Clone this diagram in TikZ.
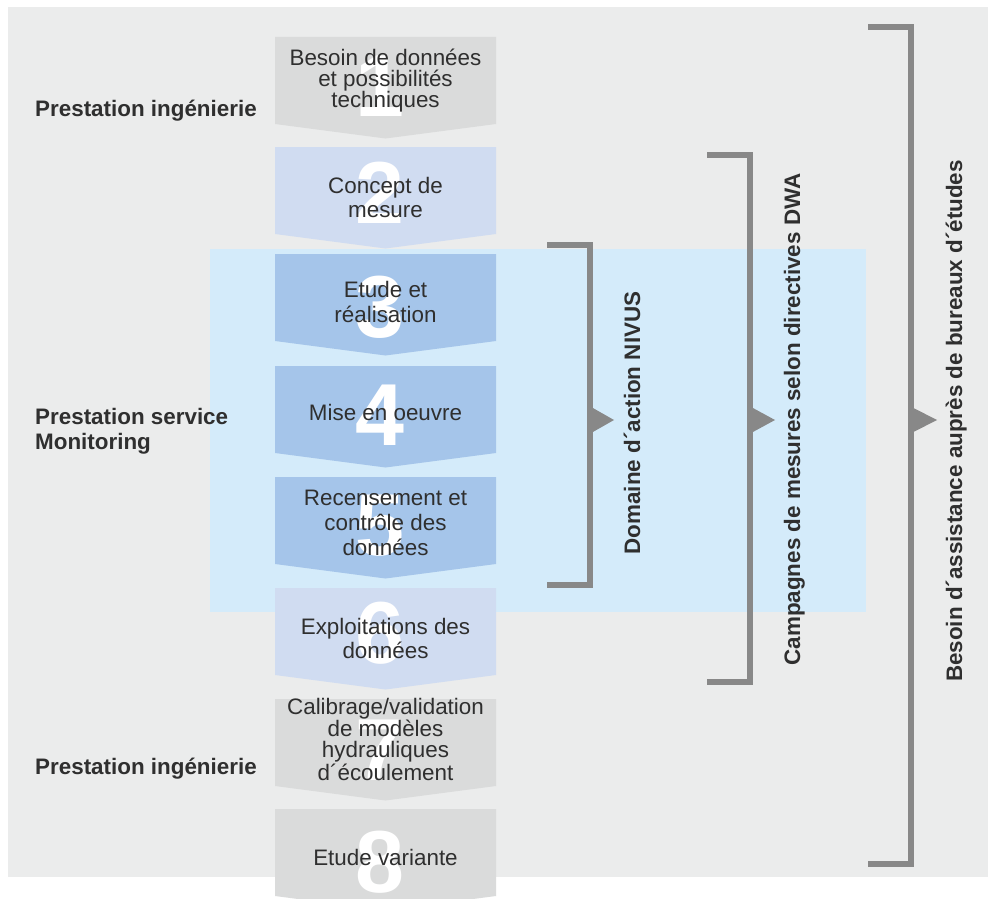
\documentclass[tikz,border=0pt]{standalone}
\usepackage{fontspec}
\setmainfont{Liberation Sans}
\usetikzlibrary{positioning, calc}

\definecolor{fondgris}{HTML}{EBECEC}
\definecolor{fondbleu}{HTML}{D4EBFA}
\definecolor{boitegris}{HTML}{DADBDB}
\definecolor{boiteclair}{HTML}{D0DCF1}
\definecolor{boitebleu}{HTML}{A5C5EA}
\definecolor{crochet}{HTML}{888888}
\definecolor{texte}{HTML}{2F2F2F}

\begin{document}
\begin{tikzpicture}[x=1pt,y=-1pt]
			
			% 定义样式
			\tikzset{
				etape/.style={
					anchor=base, align=center, inner sep=0pt, text=texte,
					font=\fontsize{22.4}{#1}\selectfont
				},
				etape/.default=24.5,
				chiffre/.style={
					anchor=base, inner sep=0pt, text=white,
					font=\fontsize{88}{88}\selectfont\bfseries
				},
				prestation/.style={
					anchor=base west, align=left, inner sep=0pt, text=texte,
					font=\fontsize{22.4}{25}\selectfont\bfseries
				},
				vertical/.style={
					rotate=90, anchor=base, inner sep=0pt, text=texte,
					font=\fontsize{22.4}{25}\selectfont\bfseries
				},
				crochet trait/.style={draw=crochet, line width=6pt, miter limit=10}
			}
			
			% 参数设置
			\def \gauche {275}
			\def \droite {496}
			\def \milieu {385.5}
			\def \hautboite {87}
			\def \pointe {14.5}
			
			\clip (0,0) rectangle (988,899);
			
			% 背景
			\fill[fondgris] (8,7) rectangle (988,877);
			\fill[fondbleu] (210,249) rectangle (866,612);
			
			% 绘制各个步骤 (\bl = 最后一行的基线)
			\foreach \i/\haut/\coul/\txt/\bl/\interl/\cb in {
				1/37/boitegris/{Besoin de données\\et possibilités\\techniques}/107/21/117,
				2/147/boiteclair/{Concept de\\mesure}/217/24/223,
				3/254/boitebleu/{Etude et\\réalisation}/322/25/337,
				4/366/boitebleu/{Mise en oeuvre}/420/25/445,
				5/477/boitebleu/{Recensement et\\contrôle des\\données}/555/25/555,
				6/588/boiteclair/{Exploitations des\\données}/658/24/663,
				7/699/boitegris/{Calibrage/validation\\de modèles\\hydrauliques\\d´écoulement}/780/21/780,
				8/809/boitegris/{Etude variante}/865/25/892} {
				\fill[\coul] (\gauche,\haut) -- (\droite,\haut) 
				-- (\droite,{\haut+\hautboite}) -- (\milieu,{\haut+\hautboite+\pointe}) 
				-- (\gauche,{\haut+\hautboite}) -- cycle;
				\node[chiffre] (num\i) at (379.5,\cb) {\i};
				\node[etape=\interl] (txt\i) at (\milieu,\bl) {\txt};
			}
			
			% 左侧标签
			\node[prestation] (lab1) at (35,117) {Prestation ingénierie};
			\node[prestation] (lab2) at (35,449) {Prestation service\\Monitoring};
			\node[prestation] (lab3) at (35,774) {Prestation ingénierie};
			
			% 括号与三角
			\foreach \nom/\xg/\xv/\yh/\yb/\xp in {
				nivus/547/590/245/585/614,
				dwa/707/750/155/682/775,
				bureaux/868/910.5/27.5/864/937} {
				\coordinate (\nom-a) at (\xg,\yh);
				\coordinate (\nom-b) at (\xv,\yh);
				\coordinate (\nom-c) at (\xv,\yb);
				\coordinate (\nom-d) at (\xg,\yb);
				\draw[crochet trait] (\nom-a) -- (\nom-b) -- (\nom-c) -- (\nom-d);
				\fill[crochet] ({\xv+2},407.5) -- (\xp,420) -- ({\xv+2},432.5) -- cycle;
			}
			
			\node[vertical] (nivus) at (640,423) {Domaine d´action NIVUS};
			\node[vertical] (dwa) at (800,419.5) {Campagnes de mesures selon directives DWA};
			\node[vertical] (bureaux) at (962,421) {Besoin d´assistance auprès de bureaux d´études};
			
		\end{tikzpicture}
\end{document}
